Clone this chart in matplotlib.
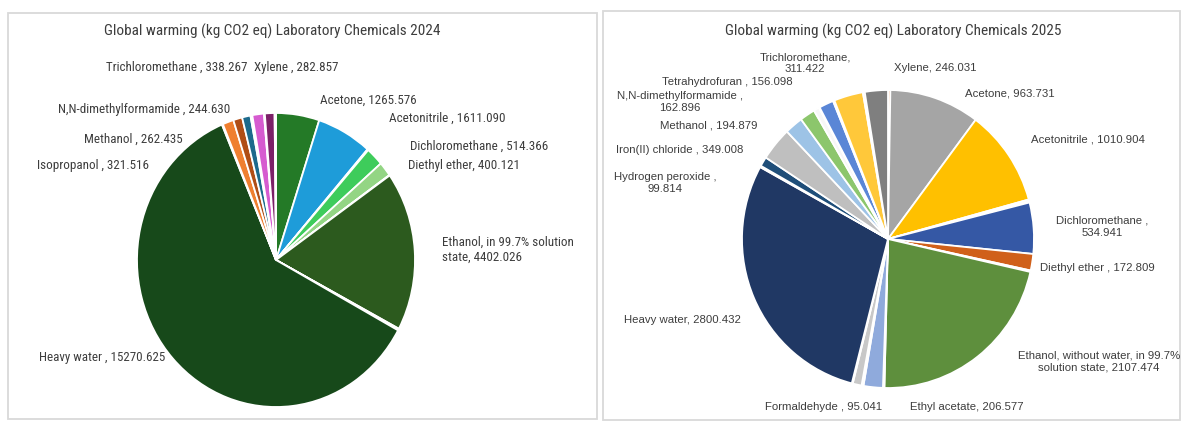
import matplotlib.pyplot as plt
from matplotlib.patches import Rectangle

W, H = 1187, 424

# 2024 inventory, clockwise from 12 o'clock ("" = unlabeled small entries)
names_2024 = ["Acetone", "Acetonitrile ", "", "Dichloromethane ", "Diethyl ether", "",
              "Ethanol, in 99.7% solution\nstate", "", "", "Heavy water ", "",
              "Isopropanol ", "Methanol ", "N,N-dimethylformamide ", "", "",
              "Trichloromethane ", "", "Xylene ", ""]
vals_2024 = [1265.576, 1611.090, 30, 514.366, 400.121, 15,
             4402.026, 25, 25, 15270.625, 30,
             321.516, 262.435, 244.630, 40, 15,
             338.267, 25, 282.857, 40]
cols_2024 = ["#247a27", "#1e9cd9", "#e4f1f8", "#3ecc5b", "#93d584", "#eef7ea",
             "#2c5a1e", "#5aa9e6", "#4ec24e", "#17491a", "#f5f5f5",
             "#ef7f2f", "#b04e16", "#1d6a8c", "#f0f7fa", "#f7c9a9",
             "#d65bd0", "#f4f4f4", "#7c2068", "#f6f6f6"]

# 2025 inventory, clockwise from 12 o'clock
names_2025 = ["", "Acetone", "Acetonitrile ", "", "", "Dichloromethane ",
              "Diethyl ether ", "", "Ethanol, without water, in 99.7%\nsolution state",
              "", "Ethyl acetate", "", "Formaldehyde ", "", "Heavy water", "",
              "Hydrogen peroxide ", "Iron(II) chloride ", "Methanol ",
              "N,N-dimethylformamide ", "", "", "Tetrahydrofuran ", "",
              "Trichloromethane", "", "Xylene"]
vals_2025 = [25, 963.731, 1010.904, 20, 12, 534.941,
             172.809, 15, 2107.474,
             15, 206.577, 20, 95.041, 10, 2800.432, 15,
             99.814, 349.008, 194.879,
             162.896, 60, 8, 156.098, 15,
             311.422, 20, 246.031]
cols_2025 = ["#ed7d31", "#a5a5a5", "#ffc000", "#f2f2f2", "#a9d18e", "#3558a5",
             "#d0601a", "#f2e3b5", "#5e8f3d",
             "#f2f2f2", "#8faadc", "#f2f2f2", "#c8c8c8", "#a9d18e", "#203864", "#fbe5d6",
             "#1f4e79", "#bfbfbf", "#9dc3e6",
             "#8cc66c", "#f7f7f7", "#5b9bd5", "#5a86d6", "#f5f5f5",
             "#ffc83a", "#c55a11", "#7f7f7f"]

# label placement in pixels: name -> (x, y, ha, format)
lab_2024 = {
    "Trichloromethane ": (177, 67, "center", "{}, {:.3f}"),
    "Xylene ": (296, 67, "center", "{}, {:.3f}"),
    "Acetone": (368, 100, "center", "{}, {:.3f}"),
    "Acetonitrile ": (447, 118, "center", "{}, {:.3f}"),
    "Dichloromethane ": (479, 146, "center", "{}, {:.3f}"),
    "Diethyl ether": (464, 165, "center", "{}, {:.3f}"),
    "N,N-dimethylformamide ": (144, 110, "center", "{}, {:.3f}"),
    "Methanol ": (133, 139, "center", "{}, {:.3f}"),
    "Isopropanol ": (93, 165, "center", "{}, {:.3f}"),
    "Ethanol, in 99.7% solution\nstate": (442, 250, "left", "{}, {:.3f}"),
    "Heavy water ": (102, 357, "center", "{}, {:.3f}"),
}
lab_2025 = {
    "Trichloromethane": (805, 63, "center", "{},\n{:.3f}"),
    "Xylene": (935, 68, "center", "{}, {:.3f}"),
    "Tetrahydrofuran ": (727, 82, "center", "{}, {:.3f}"),
    "N,N-dimethylformamide ": (680, 102, "center", "{},\n{:.3f}"),
    "Methanol ": (709, 126, "center", "{}, {:.3f}"),
    "Iron(II) chloride ": (680, 150, "center", "{}, {:.3f}"),
    "Hydrogen peroxide ": (665, 183, "center", "{},\n{:.3f}"),
    "Acetone": (1010, 93, "center", "{}, {:.3f}"),
    "Acetonitrile ": (1088, 140, "center", "{}, {:.3f}"),
    "Dichloromethane ": (1102, 227, "center", "{},\n{:.3f}"),
    "Diethyl ether ": (1097, 268, "center", "{}, {:.3f}"),
    "Ethanol, without water, in 99.7%\nsolution state": (1099, 361, "center", "{}, {:.3f}"),
    "Ethyl acetate": (967, 407, "center", "{}, {:.3f}"),
    "Formaldehyde ": (824, 407, "center", "{}, {:.3f}"),
    "Heavy water": (682, 320, "center", "{}, {:.3f}"),
}

narrow = ["Roboto Condensed", "Archivo Narrow", "Liberation Sans", "DejaVu Sans"]
plain = ["Liberation Sans", "DejaVu Sans"]
txt_col = "#3d3d3d"


def px(x, y):
    return x / W, 1 - y / H


def draw_pie(fig, cx, cy, rx, ry, vals, cols):
    ax = fig.add_axes([(cx - rx) / W, 1 - (cy + ry) / H, 2 * rx / W, 2 * ry / H])
    ax.pie(vals, colors=cols, startangle=90, counterclock=False,
           wedgeprops=dict(edgecolor="white", linewidth=1.3))
    ax.set_aspect("auto")
    ax.set_xlim(-1, 1)
    ax.set_ylim(-1, 1)
    return ax


def draw_labels(fig, names, vals, layout, family, size):
    for n, v in zip(names, vals):
        if n not in layout:
            continue
        x, y, ha, fmt = layout[n]
        fig.text(*px(x, y), fmt.format(n, v), ha=ha, va="center",
                 multialignment=ha, fontsize=size, color=txt_col,
                 family=family, linespacing=1.25)


fig = plt.figure(figsize=(W / 100, H / 100), dpi=100)

# chart frames
for x0, y0, x1, y1 in [(8, 13, 597, 419), (603, 11, 1180, 420)]:
    fig.patches.append(Rectangle(px(x0, y1), (x1 - x0) / W, (y1 - y0) / H,
                                 transform=fig.transFigure, fill=False,
                                 edgecolor="#d9d9d9", linewidth=1.3))

draw_pie(fig, 276, 260, 139, 147, vals_2024, cols_2024)
draw_pie(fig, 888, 239, 146, 149, vals_2025, cols_2025)

fig.text(*px(272, 31), "Global warming (kg CO2 eq) Laboratory Chemicals 2024",
         ha="center", va="center", fontsize=11, color=txt_col, family=narrow)
fig.text(*px(893, 31), "Global warming (kg CO2 eq) Laboratory Chemicals 2025",
         ha="center", va="center", fontsize=11, color=txt_col, family=narrow)

draw_labels(fig, names_2024, vals_2024, lab_2024, narrow, 9.4)
draw_labels(fig, names_2025, vals_2025, lab_2025, plain, 8.2)

fig.savefig("out.png", dpi=100)
